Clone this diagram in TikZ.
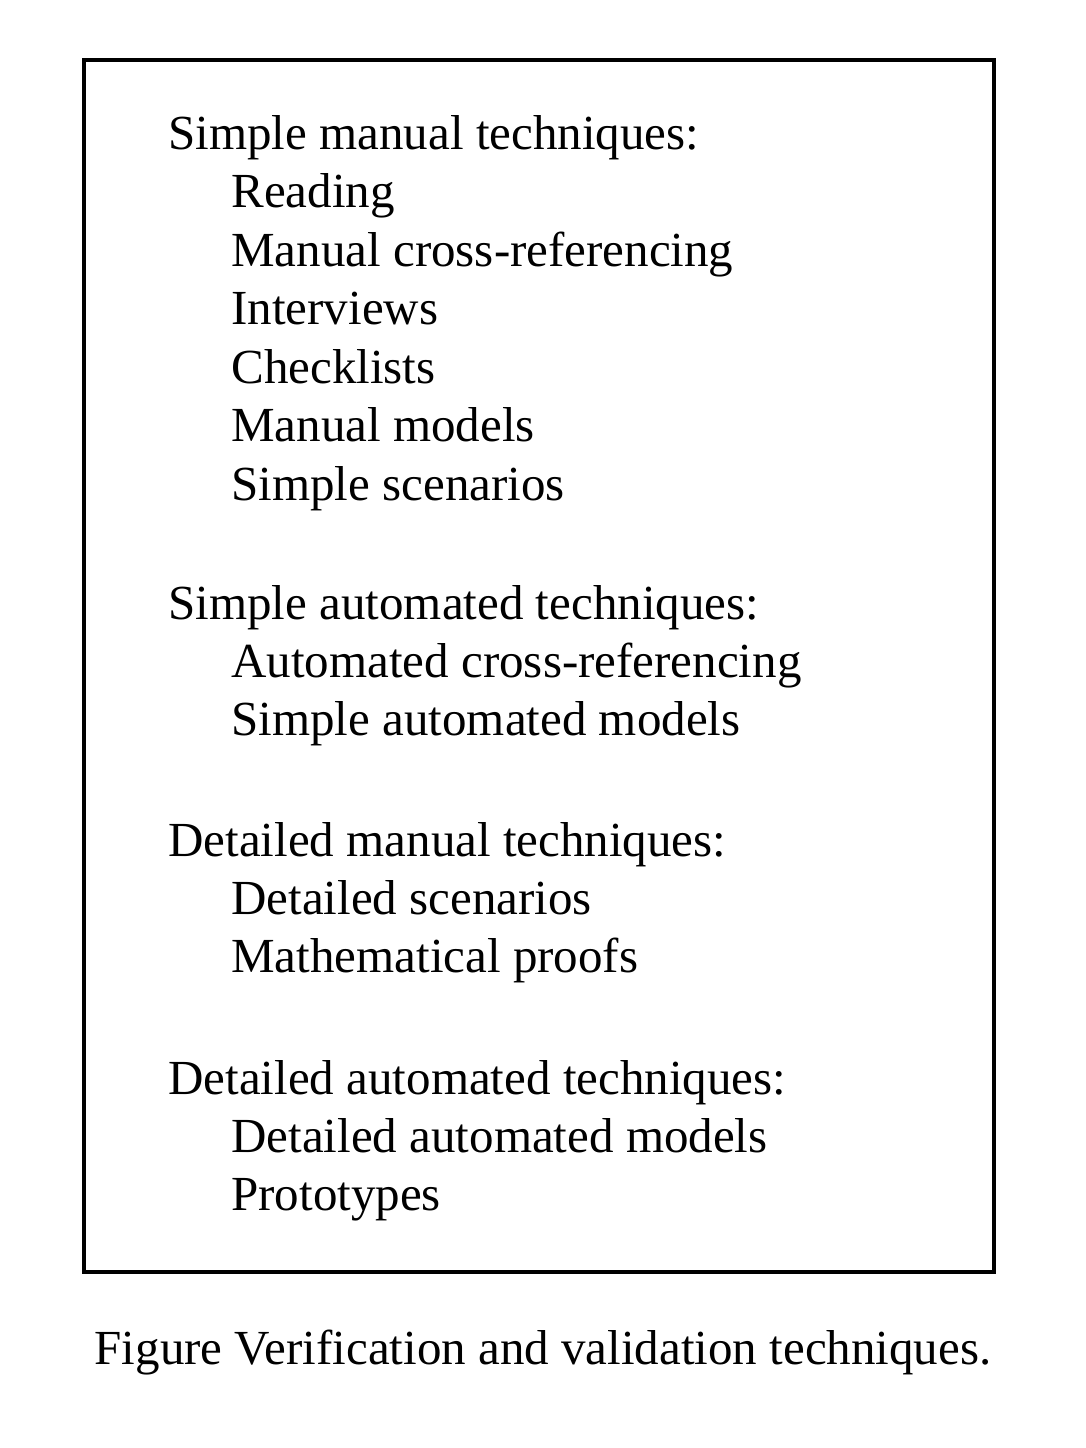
\documentclass[tikz,border=0pt]{standalone}
\usepackage{fontspec}
\setmainfont{Liberation Serif}
\begin{document}
\begin{tikzpicture}[x=0.5pt,y=-0.5pt,
  hd/.style={anchor=base west,inner sep=0pt,font=\fontsize{24.5}{28}\selectfont},
  it/.style={hd}]
\useasboundingbox (0,0) rectangle (1086,1448);
\draw[line width=1.6pt] (84,60) rectangle (994,1272);
\node[hd] (h1) at (168,149) {Simple manual techniques:};
\node[it] (a1) at (231,207) {Reading};
\node[it] (a2) at (231,266) {Manual cross-referencing};
\node[it] (a3) at (231,324) {Interviews};
\node[it] (a4) at (231,383) {Checklists};
\node[it] (a5) at (231,441) {Manual models};
\node[it] (a6) at (231,500) {Simple scenarios};
\node[hd] (h2) at (168,619) {Simple automated techniques:};
\node[it] (b1) at (231,677) {Automated cross-referencing};
\node[it] (b2) at (231,735) {Simple automated models};
\node[hd] (h3) at (168,856) {Detailed manual techniques:};
\node[it] (c1) at (231,914) {Detailed scenarios};
\node[it] (c2) at (231,972) {Mathematical proofs};
\node[hd] (h4) at (168,1094) {Detailed automated techniques:};
\node[it] (d1) at (231,1152) {Detailed automated models};
\node[it] (d2) at (231,1210) {Prototypes};
\node[anchor=base,inner sep=0pt,font=\fontsize{24.5}{28}\selectfont] (cap) at (543,1364) {Figure Verification and validation techniques.};
\end{tikzpicture}
\end{document}
